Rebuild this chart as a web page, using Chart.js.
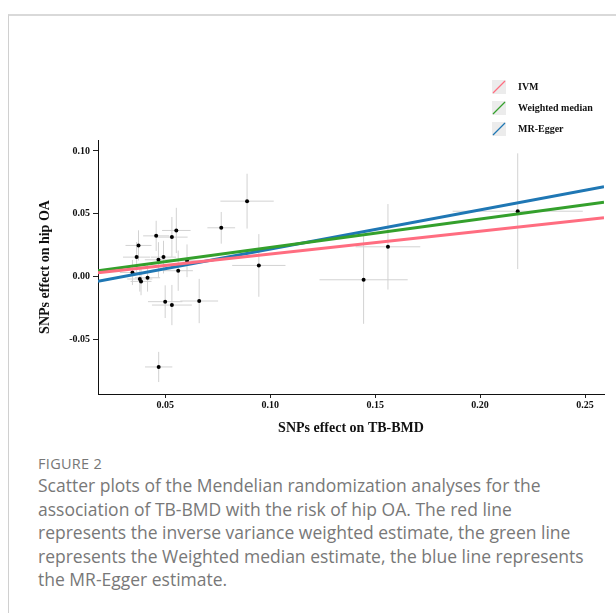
<!DOCTYPE html>
<html>
<head>
<meta charset="utf-8">
<script src="https://cdn.jsdelivr.net/npm/chart.js@4"></script>
<style>
  html, body { margin: 0; padding: 0; background: #fff; }
  body { width: 616px; height: 613px; position: relative; overflow: hidden; }
  .card { position: absolute; left: 8px; top: 14px; right: 0; bottom: 0;
          border-top: 2px solid #d9d9d9; border-left: 1px solid #d0d0d0; }
  #wrap { position: absolute; left: 8px; top: 15px; width: 608px; height: 430px; }
  #legend { position: absolute; left: 492px; top: 76px; font: bold 10px "Liberation Serif", serif; color: #111; }
  #legend .row { height: 21px; display: flex; align-items: center; }
  #legend svg { margin-right: 12px; }
  .fig { position: absolute; left: 38px; top: 454px; font: 14.5px "Open Sans", sans-serif; color: #777; letter-spacing: 0.3px; }
  .cap { position: absolute; left: 38px; top: 474px; font: 17.5px/23.6px "Open Sans", sans-serif; color: #787878; white-space: nowrap; }
</style>
</head>
<body>
<div class="card"></div>
<div id="wrap"><canvas id="chart"></canvas></div>
<div id="legend"></div>
<div class="fig">FIGURE 2</div>
<div class="cap">Scatter plots of the Mendelian randomization analyses for the<br>association of TB-BMD with the risk of hip OA. The red line<br>represents the inverse variance weighted estimate, the green line<br>represents the Weighted median estimate, the blue line represents<br>the MR-Egger estimate.</div>
<script>
// SNP effects
const snpX  = [0.0344,0.0364,0.0373,0.0379,0.0385,0.0416,0.0457,0.0468,0.0492,0.0500,0.0532,0.0532,0.0553,0.0562,0.0604,0.0662,0.0767,0.0890,0.0946,0.0469,0.1445,0.1561,0.2179];
const snpY  = [0.0034,0.0156,0.0249,-0.0018,-0.0037,-0.0008,0.0325,0.0135,0.0156,-0.0198,0.0315,-0.0225,0.0368,0.0048,0.0127,-0.0193,0.0389,0.0601,0.0090,-0.0717,-0.0024,0.0238,0.0521];
const snpSeX = [0.006,0.0065,0.0062,0.006,0.005,0.006,0.0062,0.0065,0.006,0.0082,0.0075,0.0095,0.0068,0.007,0.006,0.009,0.0066,0.0127,0.0127,0.0065,0.021,0.0154,0.031];
const snpSeY = [0.010,0.012,0.012,0.010,0.011,0.011,0.012,0.014,0.013,0.013,0.016,0.016,0.018,0.016,0.013,0.0176,0.0126,0.0218,0.0249,0.012,0.035,0.034,0.046];

// MR estimates
const methods    = ['IVM', 'Weighted median', 'MR-Egger'];
const slopes     = [0.181, 0.226, 0.312];
const intercepts = [0.0, 0.0007, -0.0093];
const colors     = ['#ff6d80', '#34a02c', '#1f77b4'];

const xMin = 0.018, xMax = 0.259;
const yMin = -0.0932, yMax = 0.1087;
const xTicks = [0.05, 0.10, 0.15, 0.20, 0.25];
const yTicks = [-0.05, 0.00, 0.05, 0.10];

// error bars as broken lines (null breaks the segment)
const errH = [], errV = [];
snpX.forEach((x, i) => {
  errH.push({x: x - snpSeX[i], y: snpY[i]}, {x: x + snpSeX[i], y: snpY[i]}, {x: x, y: null});
  errV.push({x: x, y: snpY[i] - snpSeY[i]}, {x: x, y: snpY[i] + snpSeY[i]}, {x: x, y: null});
});

const datasets = [];
methods.forEach((m, i) => {
  datasets.push({
    type: 'line', label: m, order: 0,
    data: [{x: xMin, y: intercepts[i] + slopes[i] * xMin}, {x: xMax, y: intercepts[i] + slopes[i] * xMax}],
    borderColor: colors[i], borderWidth: 3, pointRadius: 0, clip: 0
  });
});
datasets.push({ type: 'scatter', label: 'SNPs', order: 1,
  data: snpX.map((x, i) => ({x: x, y: snpY[i]})),
  backgroundColor: '#000', borderColor: '#000', pointRadius: 2, borderWidth: 0 });
[errH, errV].forEach(d => datasets.push({ type: 'line', label: 'err', order: 2, data: d,
  borderColor: '#d2d2d2', borderWidth: 1, pointRadius: 0, spanGaps: false }));

const tickFont = { family: '"Liberation Serif", serif', size: 10, weight: 'bold' };
const titleFont = { family: '"Liberation Serif", serif', size: 14, weight: 'bold' };

new Chart(document.getElementById('chart'), {
  type: 'scatter',
  data: { datasets },
  options: {
    responsive: true, maintainAspectRatio: false, animation: false,
    layout: { padding: { top: 125, right: 12, left: 20, bottom: 0 } },
    plugins: { legend: { display: false }, tooltip: { enabled: false } },
    scales: {
      x: {
        type: 'linear', min: xMin, max: xMax,
        afterFit: s => { s.height = 51; },
        afterBuildTicks: s => { s.ticks = xTicks.map(v => ({value: v})); },
        ticks: { font: tickFont, color: '#111', padding: 1, maxRotation: 0, callback: v => v.toFixed(2) },
        grid: { drawOnChartArea: false, tickLength: 4, tickColor: '#222' },
        border: { color: '#111', width: 1 },
        title: { display: true, text: 'SNPs effect on TB-BMD', font: titleFont, color: '#111', padding: { top: 0, bottom: 8.6 } }
      },
      y: {
        type: 'linear', min: yMin, max: yMax,
        afterFit: s => { s.width = 70; },
        afterBuildTicks: s => { s.ticks = yTicks.map(v => ({value: v})); },
        ticks: { font: tickFont, color: '#111', padding: 3, callback: v => (Math.abs(v) < 1e-9 ? 0 : v).toFixed(2) },
        grid: { drawOnChartArea: false, tickLength: 5, tickColor: '#222' },
        border: { color: '#111', width: 1 },
        title: { display: true, text: 'SNPs effect on hip OA', font: titleFont, color: '#111', padding: { top: 8.6, bottom: 0 } }
      }
    }
  }
});

// legend
const legendEl = document.getElementById('legend');
methods.forEach((m, i) => {
  legendEl.innerHTML += `<div class="row"><svg width="14" height="14"><rect width="14" height="14" fill="#ececec"/>` +
    `<line x1="1" y1="13" x2="13" y2="1" stroke="${colors[i]}" stroke-width="1.3"/></svg>${m}</div>`;
});
</script>
</body>
</html>
